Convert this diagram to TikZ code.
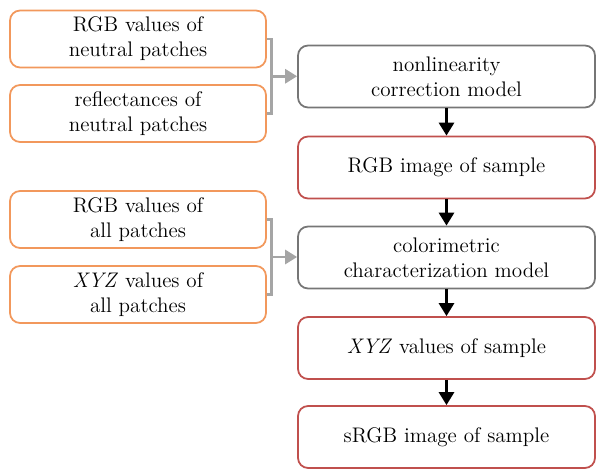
\documentclass[tikz,border=0pt]{standalone}
\usetikzlibrary{arrows.meta,calc}

\definecolor{inorange}{RGB}{242,152,92}
\definecolor{outred}{RGB}{192,80,77}
\definecolor{modelgray}{RGB}{118,118,118}
\definecolor{linkgray}{RGB}{165,165,165}

\tikzset{
    box/.style={draw, rounded corners=0.2cm, line width=1pt, align=center,
        font=\fontsize{12}{14.2}\selectfont, inner sep=0pt},
    inbox/.style={box, draw=inorange, minimum width=5.12cm, minimum height=1.14cm},
    modelbox/.style={box, draw=modelgray, minimum width=5.94cm, minimum height=1.24cm},
    outbox/.style={box, draw=outred, minimum width=5.94cm, minimum height=1.24cm},
    brace/.style={draw=linkgray, line width=1.6pt},
    feed/.style={draw=linkgray, line width=1.6pt, -{Triangle[length=0.24cm,width=0.28cm]}},
    flow/.style={draw=black, line width=1.7pt, -{Triangle[length=0.26cm,width=0.3cm]}}
}

\begin{document}
\begin{tikzpicture}[x=0.02cm, y=-0.02cm]
    \useasboundingbox (0,0) rectangle (596,469);

    % 左侧输入数据
    \node[inbox] (rgbneutral) at (138,39) {RGB values of\\neutral patches};
    \node[inbox] (refneutral) at (138,113.5) {reflectances of\\neutral patches};
    \node[inbox] (rgball) at (138,219.5) {RGB values of\\all patches};
    \node[inbox] (xyzall) at (138,294.5) {\textit{XYZ} values of\\all patches};

    % 右侧处理流程
    \node[modelbox] (nonlin) at (446.5,76.5) {nonlinearity\\correction model};
    \node[outbox] (rgbimg) at (446.5,167.5) {RGB image of sample};
    \node[modelbox] (colchar) at (446.5,257.5) {colorimetric\\characterization model};
    \node[outbox] (xyzimg) at (446.5,348) {\textit{XYZ} values of sample};
    \node[outbox] (srgbimg) at (446.5,437) {sRGB image of sample};

    % 输入汇合的括号与箭头
    \draw[brace] (rgbneutral.east) -- ++(5,0) coordinate (b1) |- (refneutral.east);
    \coordinate (j1) at ($(b1)!0.5!(b1 |- refneutral.east)$);
    \draw[feed] (j1) -- (j1 -| nonlin.west);
    \draw[brace] (rgball.east) -- ++(5,0) coordinate (b2) |- (xyzall.east);
    \coordinate (j2) at ($(b2)!0.5!(b2 |- xyzall.east)$);
    \draw[feed] (j2) -- (j2 -| colchar.west);

    % 主流程箭头
    \draw[flow] (nonlin) -- (rgbimg);
    \draw[flow] (rgbimg) -- (colchar);
    \draw[flow] (colchar) -- (xyzimg);
    \draw[flow] (xyzimg) -- (srgbimg);
\end{tikzpicture}
\end{document}
